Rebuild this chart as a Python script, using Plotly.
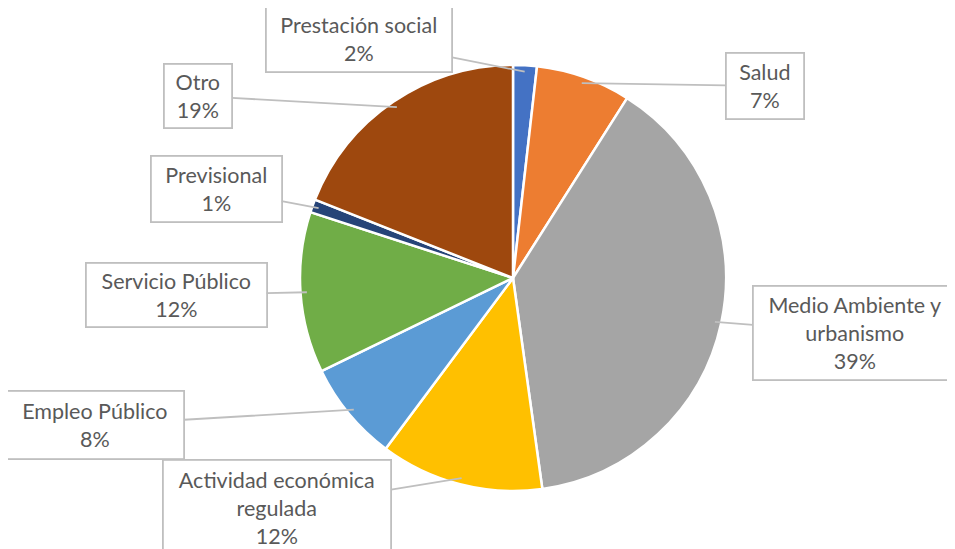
import math
import plotly.graph_objects as go

categories = ["Prestación social", "Salud", "Medio Ambiente y<br>urbanismo",
              "Actividad económica<br>regulada", "Empleo Público", "Servicio Público",
              "Previsional", "Otro"]
values = [1.8, 7.2, 38.8, 12.4, 7.6, 12.2, 1.0, 19.0]
colors = ["#4472C4", "#ED7D31", "#A5A5A5", "#FFC000", "#5B9BD5", "#70AD47", "#264478", "#9E480E"]

W, H = 955, 549
OFF = 8  # page body margin offset
cx, cy, r = 513 - OFF, 278 - OFF, 213

# label box centers (pixels in window) and sizes
box_pos = [(359, 39), (765, 86), (855, 333), (277, 508), (95, 425), (176, 295), (216, 189), (198, 96)]
box_size = [(182, 62), (74, 62), (200, 90), (224, 92), (174, 64), (177, 60), (127, 62), (64, 60)]

fig = go.Figure()
fig.add_trace(go.Pie(
    labels=categories, values=values, sort=False, direction="clockwise", rotation=0,
    marker=dict(colors=colors, line=dict(color="white", width=2.5)),
    textinfo="none", hoverinfo="label+percent", showlegend=False,
    domain=dict(x=[(cx - r) / W, (cx + r) / W], y=[1 - (cy + r) / H, 1 - (cy - r) / H]),
))

total = sum(values)
cum = 0
annotations = []
for i, (lab, v) in enumerate(zip(categories, values)):
    mid = (cum + v / 2) / total * 2 * math.pi
    cum += v
    tx = cx + r * 0.97 * math.sin(mid)
    ty = cy - r * 0.97 * math.cos(mid)
    bx, by = box_pos[i][0] - OFF, box_pos[i][1] - OFF
    bw, bh = box_size[i]
    pct = round(v / total * 100)
    annotations.append(dict(
        x=tx / W, y=1 - ty / H, xref="paper", yref="paper",
        ax=bx - tx, ay=by - ty, axref="pixel", ayref="pixel",
        text=f"{lab}<br>{pct}%", showarrow=True, arrowhead=0, arrowwidth=1.8,
        arrowcolor="#BFBFBF", standoff=0, startstandoff=0,
        bordercolor="#BFBFBF", borderwidth=1.8, bgcolor="white",
        width=bw, height=bh, align="center", valign="middle",
        font=dict(family="Lato", size=21.5, color="#595959"),
    ))

fig.update_layout(
    width=W, height=H, margin=dict(l=0, r=0, t=0, b=0),
    paper_bgcolor="white", plot_bgcolor="white",
    annotations=annotations,
)
fig.write_html("out.html")
